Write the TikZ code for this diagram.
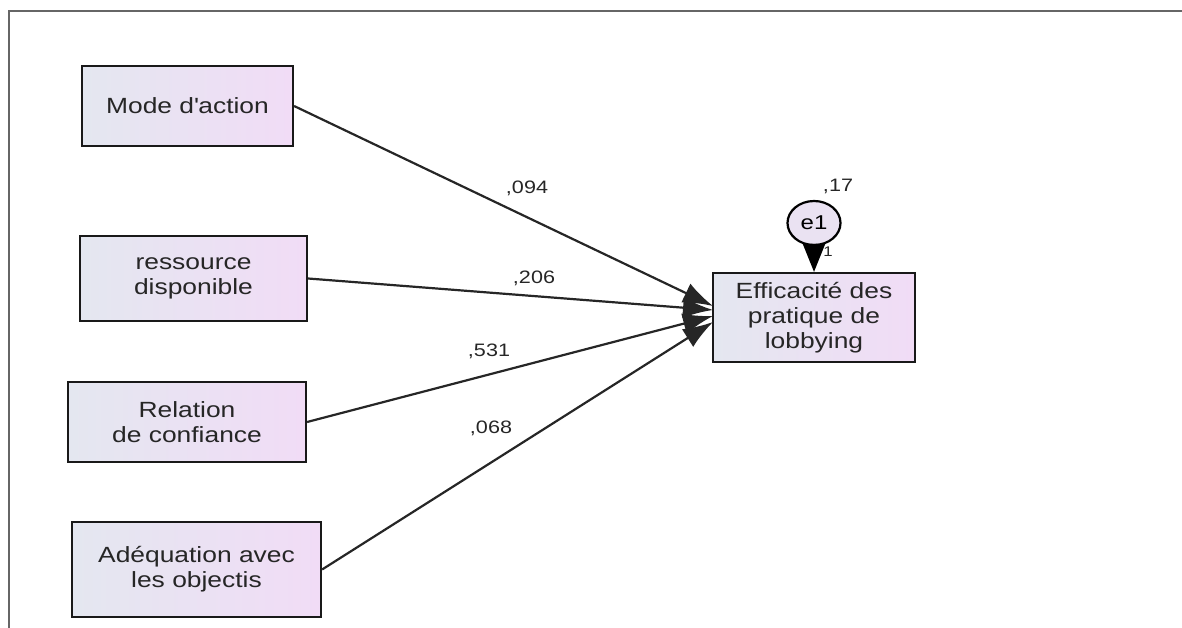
\documentclass[tikz,border=0pt]{standalone}
\usepackage{fontspec}
\setmainfont{Liberation Sans}[FakeStretch=1.2]
\usetikzlibrary{arrows.meta,shapes.geometric}
\definecolor{boxleft}{RGB}{228,231,240}
\definecolor{boxright}{RGB}{241,220,246}
\definecolor{errfill}{RGB}{234,226,242}

\begin{document}
\begin{tikzpicture}[x=1pt,y=-1pt]
\tikzstyle{varbox}=[draw=black!90, line width=2.2pt, left color=boxleft, right color=boxright, align=center, inner sep=0pt, font=\fontsize{22}{25}\selectfont, text=black!85]
\tikzstyle{reg}=[draw=black!85, line width=2.2pt, -{Latex[length=30pt,width=21pt]}]
\tikzstyle{coef}=[inner sep=0pt, font=\fontsize{18}{20}\selectfont, text=black!85]
\useasboundingbox (0,0) rectangle (1182,628);
\draw [black!60, line width=1.8pt] (9,628) -- (9,11) -- (1182,11);
% exogenous variables
\node [varbox, minimum width=211pt, minimum height=80pt] (mode) at (187.5,106) {Mode d\textquotesingle action};
\node [varbox, minimum width=227pt, minimum height=85pt] (ress) at (193.5,278.5) {ressource\\disponible};
\node [varbox, minimum width=238pt, minimum height=80pt] (rel) at (187,422) {Relation\\de confiance};
\node [varbox, minimum width=249pt, minimum height=95pt] (adeq) at (196.5,569.5) {Adéquation avec\\les objectis};
% endogenous variable and error
\node [varbox, minimum width=202pt, minimum height=89pt] (eff) at (814,317.5) {Efficacité des\\pratique de\\lobbying};
\node [draw=black, line width=2.2pt, fill=errfill, ellipse, minimum width=53pt, minimum height=44pt, inner sep=0pt, font=\fontsize{20}{22}\selectfont] (e1) at (814,223) {e1};
\coordinate (t1) at (713,306);
\coordinate (t2) at (713,310);
\coordinate (t3) at (713,316);
\coordinate (t4) at (713,322);
\draw [reg] (mode.east) -- (t1);
\draw [reg] (ress.east) -- (t2);
\draw [reg] (rel.east) -- (t3);
\draw [reg] (adeq.east) -- (t4);
\draw [black, line width=2pt, -{Triangle[length=28pt,width=22pt]}] (e1.south) -- (eff.north);
\draw (527,188) node [coef] {,094};
\draw (534,278) node [coef] {,206};
\draw (489,351) node [coef] {,531};
\draw (491,428) node [coef] {,068};
\draw (838,186) node [coef] {,17};
\draw (828,252) node [coef, font=\fontsize{14}{16}\selectfont] {1};
\end{tikzpicture}
\end{document}
